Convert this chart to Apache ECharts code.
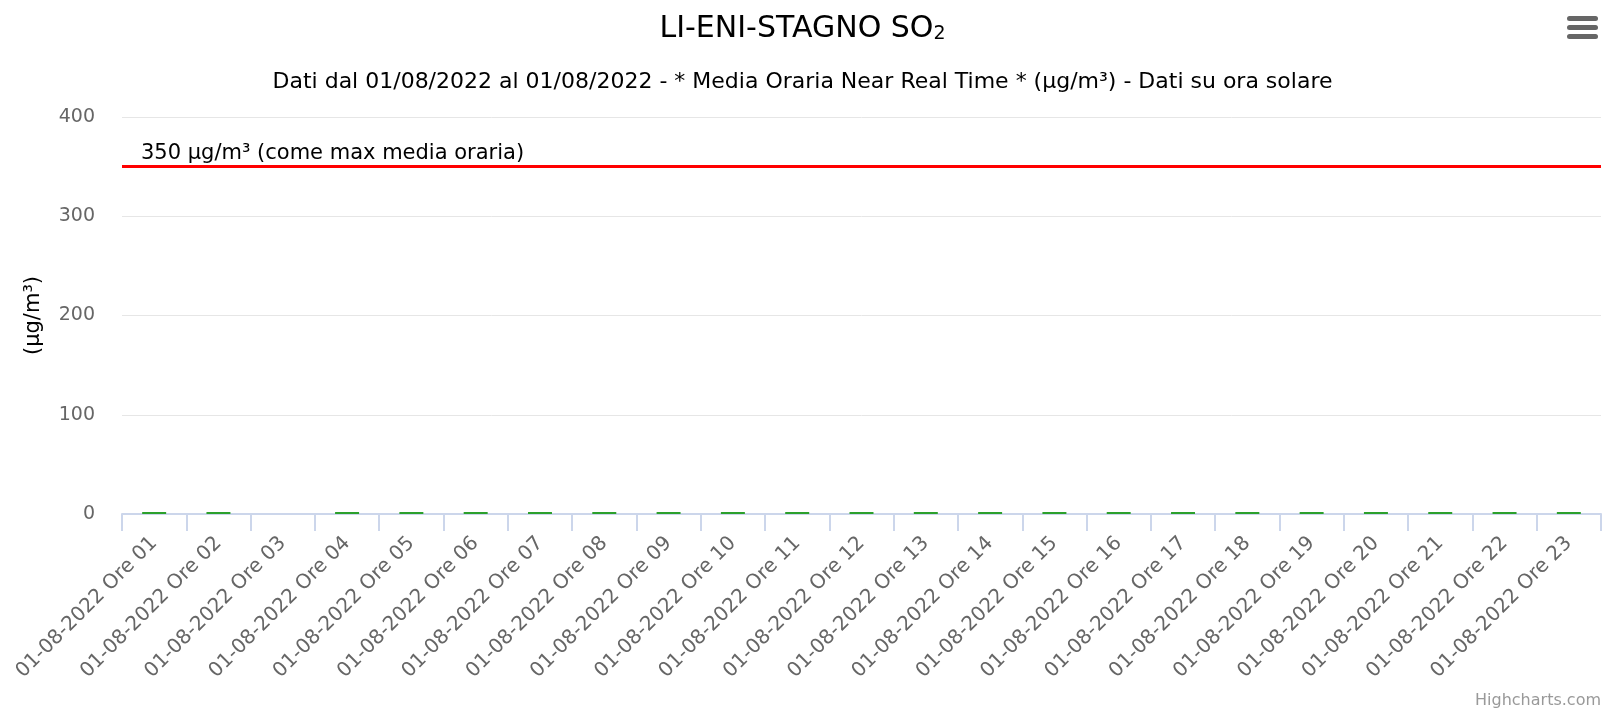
<!DOCTYPE html>
<html lang="it">

<head>
    <meta charset="UTF-8">
    <script src="https://cdn.jsdelivr.net/npm/echarts@6/dist/echarts.min.js"></script>
    <title>LI-ENI-STAGNO SO2</title>
    <style>
        body {
            margin: 0;
        }

        #main {
            width: 1605px;
            height: 712px;
        }
    </style>
</head>

<body>
    <div id="main"></div>

    <script>
        // dati
        var ore = ['01', '02', '03', '04', '05', '06', '07', '08', '09', '10', '11', '12',
            '13', '14', '15', '16', '17', '18', '19', '20', '21', '22', '23'];
        var categorie = ore.map(function (h) { return '01-08-2022 Ore ' + h; });
        var valori = [2, 2, null, 2, 2, 2, 2, 2, 2, 2, 2, 2, 2, 2, 2, 2, 2, 2, 2, 2, 2, 2, 2];
        var yTicks = [0, 100, 200, 300, 400];
        var limite = 350;

        var font = 'DejaVu Sans';
        var myChart = echarts.init(document.getElementById('main'));

        var option = {
            animation: false,
            textStyle: { fontFamily: font },
            title: [{
                text: '{a|LI-ENI-STAGNO SO}{b|2}',
                left: 'center',
                top: 9,
                textStyle: {
                    fontWeight: 'normal',
                    rich: {
                        a: { fontFamily: font, fontSize: 30, fontWeight: 'normal', color: '#000' },
                        b: { fontFamily: font, fontSize: 19, fontWeight: 'normal', color: '#000', verticalAlign: 'bottom', padding: [9, 0, 0, 0] }
                    }
                }
            }, {
                text: 'Dati dal 01/08/2022 al 01/08/2022 - * Media Oraria Near Real Time * (µg/m³) - Dati su ora solare',
                left: 'center',
                top: 66,
                textStyle: { fontFamily: font, fontSize: 22, fontWeight: 'normal', color: '#000' }
            }],
            grid: {
                left: 122,
                right: 4,
                top: 117,
                bottom: 198
            },
            xAxis: {
                type: 'category',
                data: categorie,
                axisLine: { lineStyle: { color: '#ccd6eb', width: 2 } },
                axisTick: { show: true, length: 17, lineStyle: { color: '#ccd6eb', width: 2 } },
                axisLabel: {
                    rotate: 45,
                    interval: 0,
                    margin: 26,
                    color: '#666',
                    fontSize: 20,
                    fontFamily: font
                }
            },
            yAxis: {
                type: 'value',
                min: yTicks[0],
                max: yTicks[yTicks.length - 1],
                interval: 100,
                name: '(µg/m³)',
                nameLocation: 'middle',
                nameGap: 78,
                nameRotate: 90,
                nameTextStyle: { color: '#000', fontSize: 21, fontFamily: font },
                axisLine: { show: false },
                axisTick: { show: false },
                axisLabel: { color: '#666', fontSize: 19, margin: 27, fontFamily: font },
                splitLine: { lineStyle: { color: '#e6e6e6', width: 1 } }
            },
            series: [{
                name: 'SO2',
                type: 'bar',
                data: valori,
                barWidth: 24,
                itemStyle: { color: '#2ca02c' },
                markLine: {
                    silent: true,
                    symbol: 'none',
                    lineStyle: { color: '#ff0000', width: 3, type: 'solid' },
                    label: {
                        position: 'insideStartTop',
                        formatter: limite + ' µg/m³ (come max media oraria)',
                        color: '#000',
                        fontSize: 21,
                        fontFamily: font,
                        distance: [19, 3]
                    },
                    data: [{ yAxis: limite }]
                }
            }],
            graphic: [{
                type: 'group',
                right: 7,
                top: 16,
                children: [
                    { type: 'rect', shape: { x: 0, y: 0, width: 31, height: 5, r: 2.5 }, style: { fill: '#666' } },
                    { type: 'rect', shape: { x: 0, y: 9, width: 31, height: 5, r: 2.5 }, style: { fill: '#666' } },
                    { type: 'rect', shape: { x: 0, y: 18, width: 31, height: 5, r: 2.5 }, style: { fill: '#666' } }
                ]
            }, {
                type: 'text',
                right: 4,
                bottom: 3,
                style: { text: 'Highcharts.com', fill: '#999', fontSize: 16, fontFamily: font }
            }]
        };

        myChart.setOption(option);
    </script>
</body>

</html>
